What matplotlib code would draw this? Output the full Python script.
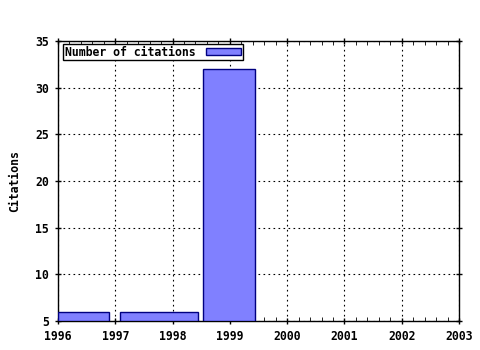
import matplotlib
matplotlib.use("Agg")
import matplotlib.pyplot as plt
from matplotlib.ticker import MultipleLocator

bar_start = [1996.0, 1997.09, 1998.53]
bar_end = [1996.89, 1998.44, 1999.44]
citations = [6, 6, 32]
series_label = "Number of citations"
x_ticks = [1996, 1997, 1998, 1999, 2000, 2001, 2002, 2003]
y_ticks = [5, 10, 15, 20, 25, 30, 35]

plt.rcParams['font.family'] = ['DejaVu Sans Mono']
plt.rcParams['font.weight'] = 'bold'
fs = 8.3

fig = plt.figure(figsize=(4.8, 3.5), dpi=100)
ax = fig.add_axes([58/480, 1-321/350, (459-58)/480, (321-41)/350])

base = 5
widths = [e - s for s, e in zip(bar_start, bar_end)]
heights = [c - base for c in citations]
ax.bar(bar_start, heights, width=widths, bottom=base, align='edge',
       color='#8080ff', edgecolor='#000080', linewidth=1, label=series_label, zorder=3)

ax.set_xlim(1996, 2003)
ax.set_ylim(5, 35)
ax.set_xticks(x_ticks)
ax.set_xticklabels([str(t) for t in x_ticks])
ax.set_yticks(y_ticks)
ax.xaxis.set_minor_locator(MultipleLocator(0.2))
ax.tick_params(axis='both', which='major', labelsize=fs, length=5, direction='inout', top=True, right=True, width=1, pad=4)
ax.tick_params(axis='both', which='minor', length=3, direction='in', top=True, right=True)
ax.grid(True, which='major', linestyle=(0, (1.5, 3)), color='black', linewidth=0.8, zorder=0)
for s in ax.spines.values():
    s.set_linewidth(1)
ax.set_ylabel("Citations", fontsize=fs, fontweight='bold', labelpad=10)

leg = ax.legend(loc='upper left', bbox_to_anchor=(0.012, 0.99), markerfirst=False,
                fancybox=False, framealpha=1, edgecolor='black', fontsize=fs,
                borderpad=0.15, handlelength=3.1, handleheight=0.6, handletextpad=0.9,
                borderaxespad=0)
leg.get_frame().set_linewidth(1)

fig.savefig("out.png", dpi=100)
